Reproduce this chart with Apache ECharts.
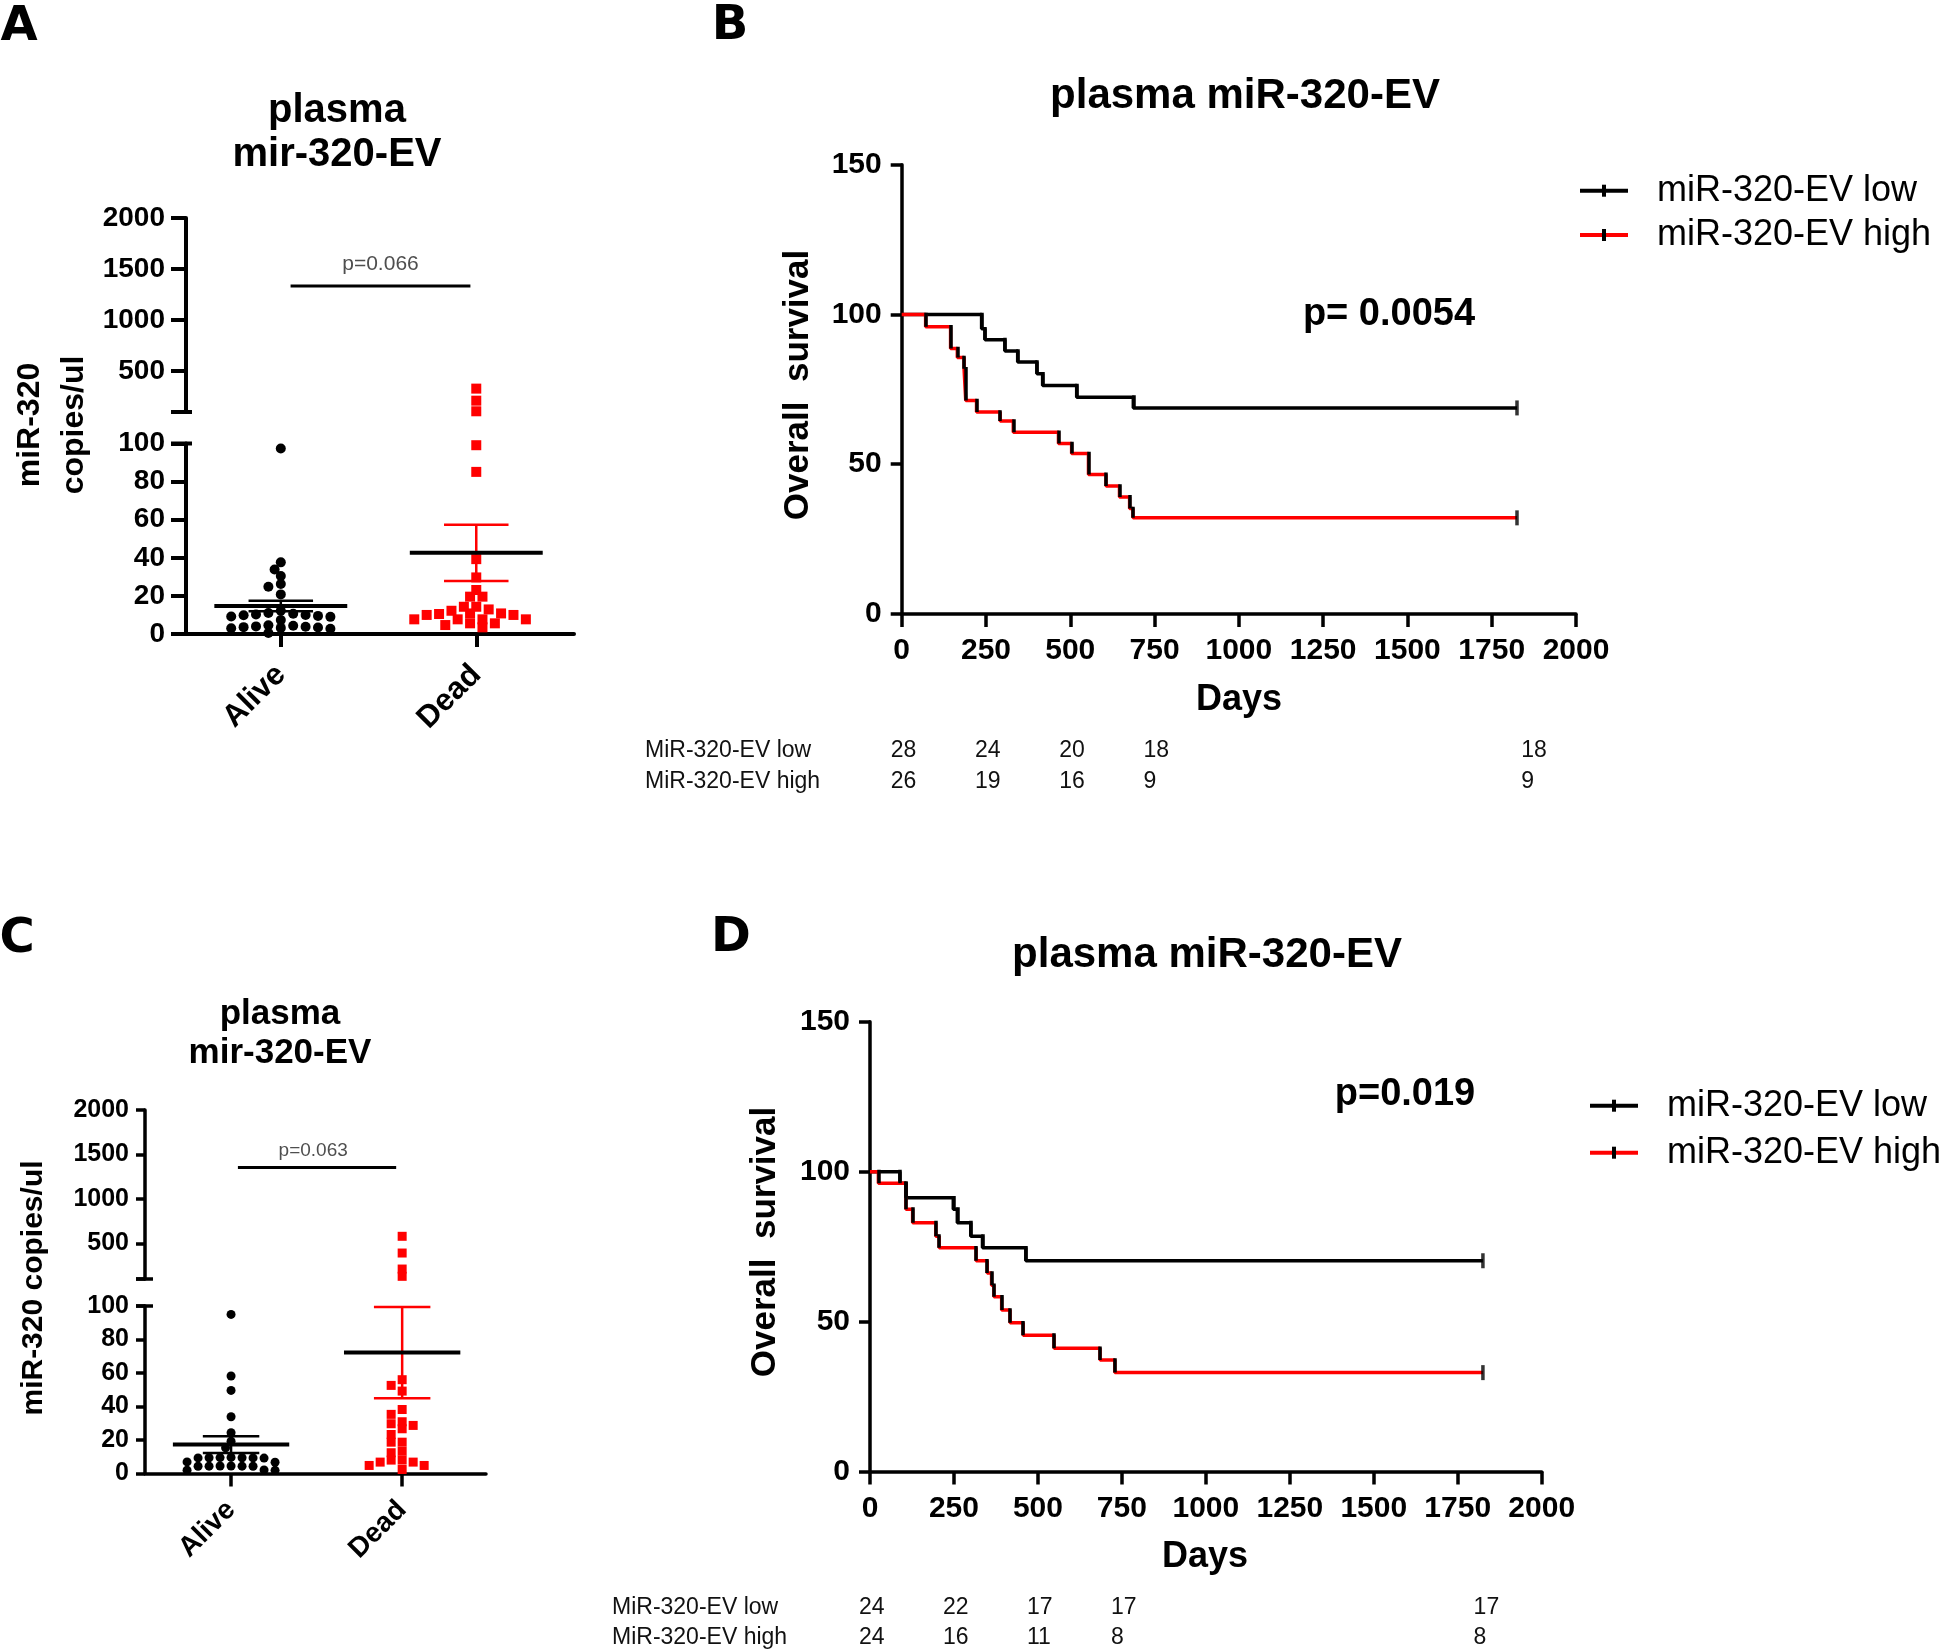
<!DOCTYPE html>
<html><head><meta charset="utf-8">
<script src="https://cdn.jsdelivr.net/npm/echarts@6/dist/echarts.min.js"></script>
<style>html,body{margin:0;padding:0;background:#fff}#main{width:1952px;height:1652px}</style>
</head><body><div id="main"></div>
<script>
// ================= DATA =================
const groupNames = ['Alive', 'Dead'];

// Panel A – plasma mir-320-EV (copies/ul)
const aliveA = [97.4, 37.6, 33.9, 30.4, 26.2, 24.8, 20.8, 12.2, 11.0, 10.6, 10.3, 10.0, 9.8, 9.5, 9.2, 9.0, 7.3, 4.6, 4.3, 4.0, 3.8, 3.6, 3.4, 3.2, 3.0, 2.8, 0.5];
const deadA  = [329, 211, 107, 99.1, 85.1, 39.3, 29.7, 23.1, 19.6, 19.6, 14.3, 14.3, 12.9, 12.2, 10.8, 10.8, 10.5, 10.0, 10.0, 7.7, 7.7, 7.7, 7.7, 5.6, 5.6, 4.7, 3.5];
const meanA  = [14.7, 42.6];
const semA   = [2.8, 14.8];
const pValueA = 'p=0.066';

// Panel C – plasma mir-320-EV (copies/ul)
const aliveC = [95, 58.2, 49.6, 33.9, 24.3, 19.3, 15.3, 9.6, 9.5, 9.4, 9.4, 9.3, 9.3, 9.2, 6.9, 6.7, 4.5, 4.5, 4.4, 4.4, 4.3, 4.3, 2.1, 2.0, 1.9];
const deadC  = [580, 392, 212, 130, 56, 52.6, 49.2, 38.2, 35.3, 30.9, 29.7, 28.7, 26.7, 23.3, 18.7, 18.7, 13.3, 12.4, 8.0, 8.0, 6.8, 6.8, 4.8, 4.8, 2.4];
const meanC  = [17.3, 72.2];
const semC   = [5.0, 27.2];
const pValueC = 'p=0.063';

// Panel B – Kaplan-Meier, overall survival (%)
const daysB_low  = [0, 237, 247, 306, 344, 401, 418, 519, 687, 1825];
const survB_low  = [100, 95.2, 91.6, 87.8, 84.1, 80.2, 76.3, 72.4, 68.8, 68.8];
const daysB_high = [0, 71, 145, 165, 185, 190, 222, 292, 331, 465, 504, 554, 606, 646, 676, 686, 1825];
const survB_high = [100, 95.9, 88.6, 85.6, 81.9, 71.3, 67.4, 64.4, 60.7, 56.9, 53.6, 46.6, 42.7, 39.1, 35.2, 32.1, 32.1];
const pValueB = 'p= 0.0054';
const riskDaysB = [0, 250, 500, 750, 1870];
const riskLowB  = [28, 24, 20, 18, 18];
const riskHighB = [26, 19, 16, 9, 9];

// Panel D – Kaplan-Meier, overall survival (%)
const daysD_low  = [0, 89, 107, 248, 260, 300, 335, 464, 1825];
const survD_low  = [100, 96.1, 91.3, 87.5, 83.0, 78.5, 74.6, 70.3, 70.3];
const daysD_high = [0, 25, 107, 127, 196, 206, 316, 349, 362, 369, 392, 417, 456, 548, 685, 729, 1825];
const survD_high = [100, 96.1, 87.5, 83.0, 78.5, 74.6, 70.3, 66.2, 62.1, 58.3, 53.9, 49.6, 45.5, 41.1, 37.2, 33.0, 33.0];
const pValueD = 'p=0.019';
const riskDaysD = [0, 250, 500, 750, 1830];
const riskLowD  = [24, 22, 17, 17, 17];
const riskHighD = [24, 16, 11, 8, 8];

const seriesLabels = ['miR-320-EV low', 'miR-320-EV high'];
const riskLabels = ['MiR-320-EV low', 'MiR-320-EV high'];

// ================= STYLE / LAYOUT =================
const FONT = '"Liberation Sans", Arial, sans-serif';
const RED = '#ff0000';
const chart = echarts.init(document.getElementById('main'));
const plain = v => String(v);

const dotPanels = [
  { alive: aliveA, dead: deadA, mean: meanA, sem: semA, p: pValueA,
    gU: {left: 186, top: 218, width: 388, height: 194},
    gL: {left: 186, top: 443.5, width: 388, height: 190.5},
    xMin: -0.485, xMax: 1.5, tickFont: 28, tickLen: 15, labelMargin: 21, axisW: 4,
    catFont: 31, catMargin: 36, dot: 10, diam: 12.4, pFont: 21,
    pLine: [0.05, 0.97, 1335], pText: [0.51, 1545] },
  { alive: aliveC, dead: deadC, mean: meanC, sem: semC, p: pValueC,
    gU: {left: 145, top: 1110, width: 341, height: 169},
    gL: {left: 145, top: 1306, width: 341, height: 167.5},
    xMin: -0.503, xMax: 1.49, tickFont: 25, tickLen: 9, labelMargin: 16, axisW: 3.5,
    catFont: 28, catMargin: 32, dot: 9, diam: 11, pFont: 19,
    pLine: [0.04, 0.965, 1353], pText: [0.48, 1540] }
];
const kmPanels = [
  { low: [daysB_low, survB_low], high: [daysB_high, survB_high],
    g: {left: 901.7, top: 164.7, width: 674.3, height: 449.3},
    risk: [riskDaysB, riskLowB, riskHighB], riskLabelX: 645, riskY: [751, 782] },
  { low: [daysD_low, survD_low], high: [daysD_high, survD_high],
    g: {left: 870, top: 1021.7, width: 671.7, height: 449.9},
    risk: [riskDaysD, riskLowD, riskHighD], riskLabelX: 612, riskY: [1608, 1638] }
];

const grids = [], xAxes = [], yAxes = [], series = [];
const axisText = (size) => ({fontSize: size, fontWeight: 'bold', fontFamily: FONT, color: '#000'});
const gridBase = {containLabel: false, outerBoundsMode: 'none'};

dotPanels.forEach((P, k) => {
  const u = grids.length, l = u + 1;
  P.u = u; P.l = l;
  grids.push(Object.assign({}, gridBase, P.gU));
  grids.push(Object.assign({}, gridBase, P.gL));
  const line = {color: '#000', width: P.axisW};
  xAxes.push({gridIndex: u, type: 'value', min: P.xMin, max: P.xMax, show: false});
  xAxes.push({gridIndex: l, type: 'value', min: P.xMin, max: P.xMax,
    axisLine: {show: true, onZero: false, lineStyle: line},
    axisTick: {show: true, customValues: [0, 1], length: 13, lineStyle: line},
    axisLabel: Object.assign({show: true, customValues: [0, 1], rotate: 45, margin: P.catMargin,
      formatter: v => groupNames[Math.round(v)]}, axisText(P.catFont)),
    splitLine: {show: false}});
  yAxes.push({gridIndex: u, type: 'value', min: 100, max: 2000,
    axisLine: {show: true, onZero: false, lineStyle: line},
    axisTick: {show: true, customValues: [100, 500, 1000, 1500, 2000], length: P.tickLen, lineStyle: line},
    axisLabel: Object.assign({customValues: [500, 1000, 1500, 2000], margin: P.labelMargin, formatter: plain}, axisText(P.tickFont)),
    splitLine: {show: false}});
  yAxes.push({gridIndex: l, type: 'value', min: 0, max: 100, interval: 20,
    axisLine: {show: true, onZero: false, lineStyle: line},
    axisTick: {show: true, length: P.tickLen, lineStyle: line},
    axisLabel: Object.assign({margin: P.labelMargin, formatter: plain}, axisText(P.tickFont)),
    splitLine: {show: false}});
  [['alive', 'circle', '#000'], ['dead', 'rect', RED]].forEach(([g, sym, col]) => {
    ['U', 'L'].forEach(part => {
      series.push({id: `dot${k}${g}${part}`, type: 'scatter', xAxisIndex: part === 'U' ? u : l, yAxisIndex: part === 'U' ? u : l,
        symbol: sym, symbolSize: P.dot, itemStyle: {color: col, opacity: 1}, data: [], z: 3, clip: false});
    });
  });
  series.push({type: 'custom', xAxisIndex: l, yAxisIndex: l, z: 5, clip: false,
    data: P.mean.map((m, i) => [i, m, P.sem[i]]),
    renderItem: (params, api) => {
      const gi = api.value(0), m = api.value(1), s = api.value(2);
      const col = gi === 0 ? '#000' : RED;
      const c = (x, y) => api.coord([x, y]);
      const seg = (a, b, w, color) => ({type: 'line', shape: {x1: a[0], y1: a[1], x2: b[0], y2: b[1]}, style: {stroke: color, lineWidth: w}});
      return {type: 'group', children: [
        seg(c(gi, m - s), c(gi, m + s), 2.5, col),
        seg(c(gi - 0.165, m + s), c(gi + 0.165, m + s), 2.5, col),
        seg(c(gi - 0.165, m - s), c(gi + 0.165, m - s), 2.5, col),
        seg(c(gi - 0.34, m), c(gi + 0.34, m), 4, '#000')
      ]};
    }});
  series.push({type: 'line', xAxisIndex: u, yAxisIndex: u, symbol: 'none', z: 4,
    lineStyle: {color: '#000', width: 3}, data: [[P.pLine[0], P.pLine[2]], [P.pLine[1], P.pLine[2]]]});
  series.push({type: 'scatter', xAxisIndex: u, yAxisIndex: u, symbolSize: 0, z: 4,
    data: [P.pText],
    label: {show: true, position: 'inside', formatter: P.p, fontSize: P.pFont, fontFamily: FONT, color: '#222'}});
});

kmPanels.forEach((K, k) => {
  const gi = grids.length;
  K.gi = gi;
  grids.push(Object.assign({}, gridBase, K.g));
  const line = {color: '#000', width: 3.5};
  xAxes.push({gridIndex: gi, type: 'value', min: 0, max: 2000, interval: 250,
    axisLine: {show: true, onZero: false, lineStyle: line},
    axisTick: {show: true, length: 13, lineStyle: line},
    axisLabel: Object.assign({margin: 22, formatter: plain}, axisText(30)), splitLine: {show: false}});
  yAxes.push({gridIndex: gi, type: 'value', min: 0, max: 150, interval: 50,
    axisLine: {show: true, onZero: false, lineStyle: line},
    axisTick: {show: true, length: 11, lineStyle: line},
    axisLabel: Object.assign({margin: 20, formatter: plain}, axisText(30)), splitLine: {show: false}});
  const zip = (d, s) => d.map((x, i) => [x, s[i]]);
  series.push({type: 'line', xAxisIndex: gi, yAxisIndex: gi, step: 'end', symbol: 'none', z: 2,
    lineStyle: {color: '#000', width: 3.5}, data: zip(K.low[0], K.low[1])});
  series.push({type: 'line', xAxisIndex: gi, yAxisIndex: gi, step: 'end', symbol: 'none', z: 3,
    lineStyle: {color: RED, width: 3.5}, data: zip(K.high[0], K.high[1])});
  const drops = [];
  [K.low, K.high].forEach(([d, s]) => {
    for (let i = 1; i < d.length; i++) if (s[i] !== s[i - 1]) drops.push({coords: [[d[i], s[i - 1] + 0.6], [d[i], s[i]]]});
  });
  series.push({type: 'lines', coordinateSystem: 'cartesian2d', xAxisIndex: gi, yAxisIndex: gi, z: 4,
    lineStyle: {color: '#000', width: 3.5, opacity: 1}, data: drops});
  series.push({type: 'scatter', xAxisIndex: gi, yAxisIndex: gi, z: 5, symbol: 'rect', symbolSize: [3.5, 15],
    itemStyle: {color: '#000'},
    data: [K.low, K.high].map(([d, s]) => [d[d.length - 1], s[s.length - 1]])});
});

// ---------- static text ----------
const txt = (x, y, text, size, o = {}) => ({type: 'text', x, y, rotation: o.rot || 0, z: 100,
  style: {text, fontSize: size, fontWeight: o.weight || 'bold', fontFamily: o.family || FONT,
    fill: o.color || '#000', align: o.align || 'center', verticalAlign: 'middle'}});
const R90 = Math.PI / 2;
const graphic = [
  txt(19, 28, 'A', 48, {family: '"DejaVu Sans"'}),
  txt(730, 27, 'B', 48, {family: '"DejaVu Sans"'}),
  txt(17, 940, 'C', 48, {family: '"DejaVu Sans"'}),
  txt(731, 939, 'D', 48, {family: '"DejaVu Sans"'}),
  txt(337, 111, 'plasma', 40), txt(337, 155, 'mir-320-EV', 40),
  txt(280, 1014, 'plasma', 35), txt(280, 1053, 'mir-320-EV', 35),
  txt(1245, 96, 'plasma miR-320-EV', 42), txt(1207, 955, 'plasma miR-320-EV', 42),
  txt(30, 425, 'miR-320', 32, {rot: R90}), txt(74, 425, 'copies/ul', 32, {rot: R90}),
  txt(34, 1288, 'miR-320 copies/ul', 30, {rot: R90}),
  txt(798, 385, 'Overall  survival', 35, {rot: R90}), txt(765, 1242, 'Overall  survival', 35, {rot: R90}),
  txt(1239, 700, 'Days', 36), txt(1205, 1557, 'Days', 36),
  txt(1389, 315, pValueB, 38), txt(1405, 1095, pValueD, 38),
  // axis-break marks crossing the axis
  {type: 'line', z: 50, shape: {x1: 171, y1: 443.5, x2: 192, y2: 443.5}, style: {stroke: '#000', lineWidth: 4}},
  {type: 'line', z: 50, shape: {x1: 171, y1: 412, x2: 192, y2: 412}, style: {stroke: '#000', lineWidth: 4}},
  {type: 'line', z: 50, shape: {x1: 136, y1: 1306, x2: 153, y2: 1306}, style: {stroke: '#000', lineWidth: 3.5}},
  {type: 'line', z: 50, shape: {x1: 136, y1: 1279, x2: 153, y2: 1279}, style: {stroke: '#000', lineWidth: 3.5}}
];
[[1580, 1657, [190.7, 235]], [1590, 1667, [1105.7, 1152.7]]].forEach(([lx, tx, ys]) => {
  ys.forEach((y, i) => {
    graphic.push({type: 'line', z: 100, shape: {x1: lx, y1: y, x2: lx + 48, y2: y}, style: {stroke: i ? RED : '#000', lineWidth: 4}});
    graphic.push({type: 'rect', z: 101, shape: {x: lx + 22, y: y - 6, width: 4, height: 12}, style: {fill: '#000'}});
    graphic.push(txt(tx, y, seriesLabels[i], 36, {weight: 'normal', align: 'left'}));
  });
});

chart.setOption({animation: false, backgroundColor: '#fff', grid: grids, xAxis: xAxes, yAxis: yAxes, series, graphic});

// ---------- second pass: swarm layout of the dot plots & risk table ----------
function swarm(pixY, diam, vdiam, step) {
  const order = pixY.map((_, i) => i).sort((a, b) => pixY[a] - pixY[b]);
  const placed = [], off = new Array(pixY.length).fill(0);
  for (const i of order) {
    for (let k = 0; k < 400; k++) {
      const n = Math.ceil(k / 2), cand = (k % 2 ? -n : n) * step;
      if (placed.every(p => ((p.x - cand) / diam) ** 2 + ((p.y - pixY[i]) / vdiam) ** 2 >= 0.999)) {
        off[i] = cand; placed.push({x: cand, y: pixY[i]}); break;
      }
    }
  }
  return off;
}
const upd = [];
dotPanels.forEach((P, k) => {
  const ppu = chart.convertToPixel({xAxisIndex: P.l}, 1) - chart.convertToPixel({xAxisIndex: P.l}, 0);
  [['alive', P.alive, 0], ['dead', P.dead, 1]].forEach(([g, vals, gi]) => {
    const py = vals.map(v => v > 100 ? chart.convertToPixel({yAxisIndex: P.u}, v) : chart.convertToPixel({yAxisIndex: P.l}, v));
    const off = swarm(py, P.diam, P.diam * 0.62, P.diam / 2);
    const U = [], L = [];
    vals.forEach((v, i) => (v > 100 ? U : L).push([gi + off[i] / ppu, v]));
    upd.push({id: `dot${k}${g}U`, data: U}, {id: `dot${k}${g}L`, data: L});
  });
});
const g2 = [];
kmPanels.forEach(K => {
  const [days, low, high] = K.risk;
  [low, high].forEach((row, r) => {
    g2.push(txt(K.riskLabelX, K.riskY[r], riskLabels[r], 23, {weight: 'normal', align: 'left', color: '#111'}));
    row.forEach((n, i) => {
      const x = chart.convertToPixel({xAxisIndex: K.gi}, days[i]);
      g2.push(txt(x - 11, K.riskY[r], String(n), 23, {weight: 'normal', align: 'left', color: '#111'}));
    });
  });
});
chart.setOption({series: upd, graphic: graphic.concat(g2)}, {replaceMerge: ['graphic']});
</script></body></html>
